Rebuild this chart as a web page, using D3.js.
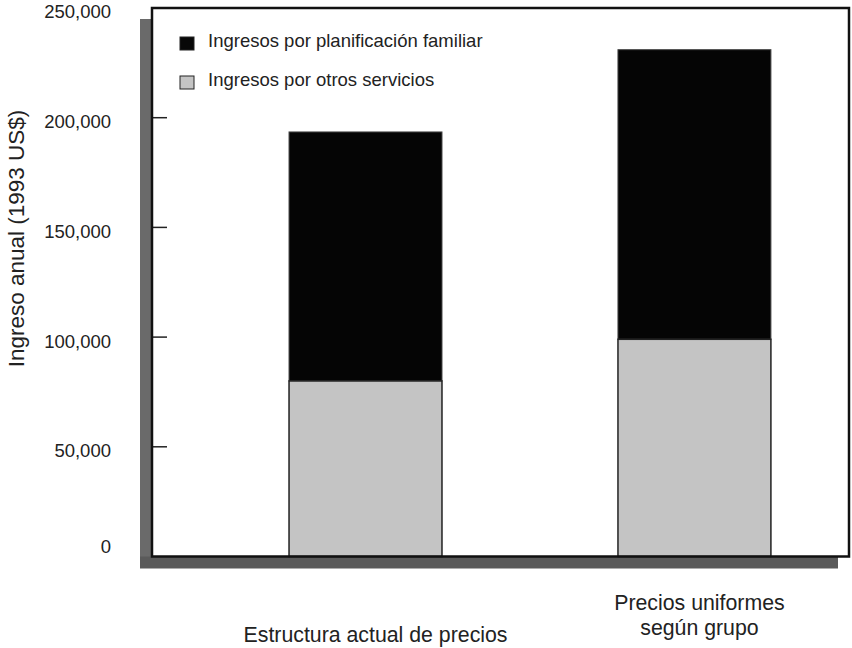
<!DOCTYPE html>
<html><head><meta charset="utf-8">
<script src="https://cdn.jsdelivr.net/npm/d3@7"></script>
<style>body{margin:0;background:#fff}svg{display:block}text{font-family:"Liberation Sans",Arial,sans-serif;fill:#222}</style>
</head><body><svg id="c" width="852" height="648"></svg>
<script>
const categories = [["Estructura actual de precios"], ["Precios uniformes", "según grupo"]];
const catKeys = ["actual", "uniformes"];
const otrosServicios = [80000, 99000];
const planificacion = [113500, 132000];
const seriesNames = ["Ingresos por planificación familiar", "Ingresos por otros servicios"];
const yTicks = [0, 50000, 100000, 150000, 200000, 250000];

const svg = d3.select("#c");
const L = 152, R = 849, T = 8, B = 556.5;
const y = d3.scaleLinear().domain([0, 250000]).range([B, T]);
const x = d3.scaleBand().domain(catKeys).range([L, R]).paddingInner(0.535).paddingOuter(0.327).align(0.637);

// shadow
svg.append("rect").attr("x", 140).attr("y", 19).attr("width", 13).attr("height", 568 - 19).attr("fill", "#6a6a6a");
svg.append("rect").attr("x", 140).attr("y", B).attr("width", 838 - 140).attr("height", 12).attr("fill", "#5a5a5a");
// plot frame
svg.append("rect").attr("x", L).attr("y", T).attr("width", R - L).attr("height", B - T).attr("fill", "#fff");

// ticks
svg.append("g").selectAll("line").data(yTicks.filter(d => d > 0 && d < 250000)).join("line")
  .attr("x1", L).attr("x2", L + 15).attr("y1", d => y(d)).attr("y2", d => y(d))
  .attr("stroke", "#222").attr("stroke-width", 1.5);

// tick labels
svg.append("g").selectAll("text").data(yTicks).join("text")
  .attr("x", 111).attr("y", d => Math.min(y(d) + 4, 547)).attr("dy", "0.35em")
  .attr("text-anchor", "end").attr("font-size", 18.5)
  .text(d => d3.format(",")(d));

// bars
const stack = catKeys.map((k, i) => ({k, o: otrosServicios[i], p: planificacion[i]}));
const g = svg.append("g");
g.selectAll(".pf").data(stack).join("rect")
  .attr("x", d => x(d.k)).attr("width", x.bandwidth())
  .attr("y", d => y(d.o + d.p)).attr("height", d => y(d.o) - y(d.o + d.p))
  .attr("fill", "#050505").attr("stroke", "#444").attr("stroke-width", 1);
g.selectAll(".os").data(stack).join("rect")
  .attr("x", d => x(d.k)).attr("width", x.bandwidth())
  .attr("y", d => y(d.o)).attr("height", d => y(0) - y(d.o))
  .attr("fill", "#c4c4c4").attr("stroke", "#222").attr("stroke-width", 1.5);

// frame border
svg.append("rect").attr("x", L).attr("y", T).attr("width", R - L).attr("height", B - T)
  .attr("fill", "none").attr("stroke", "#111").attr("stroke-width", 2.5);

// legend
const legColors = ["#080808", "#c4c4c4"];
const lg = svg.append("g").selectAll("g").data(seriesNames).join("g")
  .attr("transform", (d, i) => `translate(180,${37 + i * 39})`);
lg.append("rect").attr("width", 14).attr("height", 13).attr("fill", (d, i) => legColors[i])
  .attr("stroke", "#222").attr("stroke-width", 1);
lg.append("text").attr("x", 28).attr("y", 10).attr("font-size", 18.5).text(d => d);

// x labels
const xl = svg.append("g").selectAll("text").data(categories).join("text")
  .attr("text-anchor", "middle").attr("font-size", 21.3)
  .attr("transform", (d, i) => `translate(${x(catKeys[i]) + x.bandwidth() / 2 + (i ? 5 : 10)},${642 - (d.length - 1) * 32})`);
xl.selectAll("tspan").data(d => d).join("tspan").attr("x", 0).attr("dy", (d, i) => i ? 24.5 : 0).text(d => d);

// y title
svg.append("text").attr("transform", "translate(24,238.5) rotate(-90)").attr("text-anchor", "middle")
  .attr("font-size", 22.5).text("Ingreso anual (1993 US$)");
</script></body></html>
